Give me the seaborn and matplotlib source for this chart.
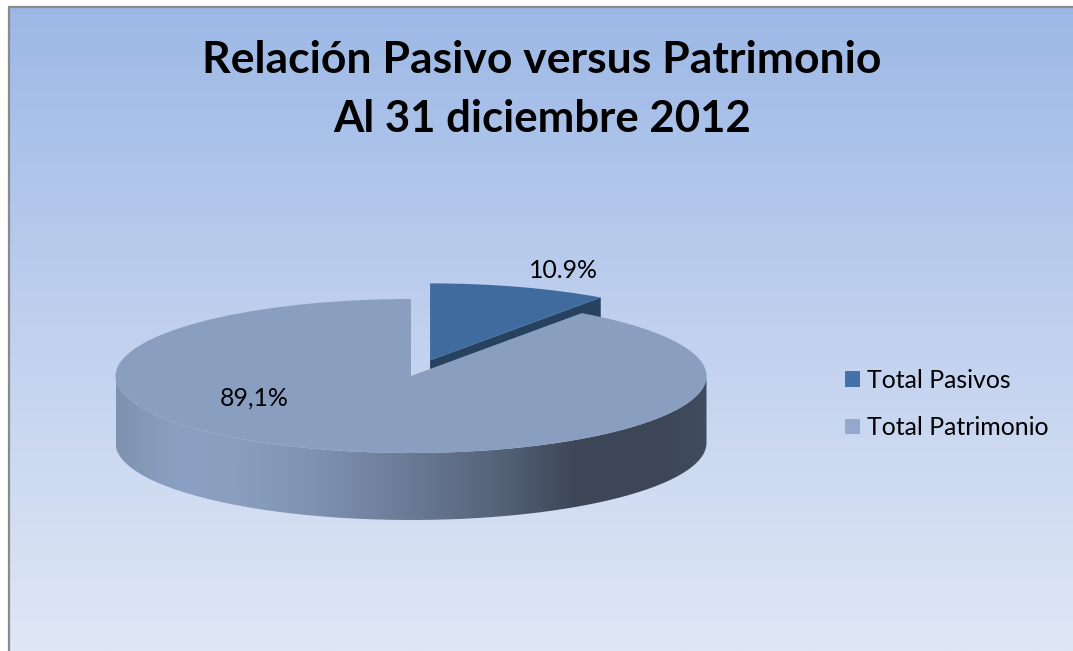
import numpy as np
import seaborn as sns
import matplotlib.pyplot as plt
from matplotlib.colors import LinearSegmentedColormap
from matplotlib.patches import Patch, PathPatch, Polygon, Rectangle
from matplotlib.path import Path

# Data (wedge shares as drawn, labels as typed on the chart)
names = ["Total Pasivos", "Total Patrimonio"]
shares = [9.8, 90.2]
labels = ["10.9%", "89,1%"]
title_lines = ["Relación Pasivo versus Patrimonio", "Al 31 diciembre 2012"]

sns.set_theme(style="white")
plt.rcParams["font.family"] = ["Lato", "DejaVu Sans"]

W, H = 1073, 651
cx, cy, rx, ry = 411, 376, 295.5, 77
depth = 67 / ry

top_colors = ["#3f6b9e", "#8a9fc0"]
swatch_colors = ["#4472a8", "#95a9d0"]
cut_color = "#27425f"

fig = plt.figure(figsize=(W / 100, H / 100), dpi=100, facecolor="white")
ax = fig.add_axes([0, 0, 1, 1])

# pie draws a unit circle, the axes limits squash it into the ellipse
wedges, _ = ax.pie(shares, colors=top_colors, startangle=90, counterclock=False,
                   explode=[0.213, 0], radius=1, wedgeprops={"linewidth": 0, "zorder": 5})
ax.set_aspect("auto")
xlim = (-cx / rx, (W - cx) / rx)
ylim = ((cy - H) / ry, cy / ry)
ax.axis("off")

# Background with frame (display pixels, origin at the bottom left)
bg = LinearSegmentedColormap.from_list("bg", ["#9cb8e6", "#c0d0ee", "#dfe7f5"])
im = ax.imshow(np.linspace(0, 1, 256).reshape(-1, 1), cmap=bg, aspect="auto",
               extent=(*xlim, ylim[0], ylim[1]), zorder=0)
im.set_clip_path(Rectangle((8, -10), W, H + 4, transform=None))
frame = Rectangle((8.5, -10), W, H + 3.5, transform=None, facecolor="none",
                  edgecolor="#8a8a8a", linewidth=1.6, zorder=1)
ax.add_artist(frame)

# Cut face of the pulled out wedge, the big slice covers the lower part
pulled = wedges[0]
ang = np.deg2rad(pulled.theta1)
tip = np.array(pulled.center)
edge = tip + np.array([np.cos(ang), np.sin(ang)])
ax.add_patch(Polygon([tip, edge, edge - [0, depth], tip - [0, depth]],
                     facecolor=cut_color, linewidth=0, zorder=3))

# Front wall of the big slice with horizontal shading
t = np.linspace(np.pi, 2 * np.pi, 200)
wall = np.vstack([np.column_stack([np.cos(t), np.sin(t) - depth]),
                  np.column_stack([np.cos(t[::-1]), np.sin(t[::-1])])])
wall_cmap = LinearSegmentedColormap.from_list("wall", [
    (0.0, "#7f92b0"), (0.1, "#8aa0c2"), (0.2, "#8a9fc0"), (0.35, "#7d90b0"),
    (0.5, "#6a7a95"), (0.65, "#556278"), (0.78, "#3c4656"), (0.92, "#3c4656"),
    (1.0, "#414d5f")])
shade = ax.imshow(np.linspace(0, 1, 512).reshape(1, -1), cmap=wall_cmap, aspect="auto",
                  extent=(-1, 1, -1 - depth, 0), zorder=4)
shade.set_clip_path(PathPatch(Path(wall), transform=ax.transData))
ax.set_xlim(xlim)
ax.set_ylim(ylim)

# Texts are placed in pixels from the top left corner
def px(x, y):
    return x / W, 1 - y / H

fig.text(*px(542, 60), title_lines[0], ha="center", va="center", fontsize=32,
         fontweight="bold", color="black")
fig.text(*px(542, 119), title_lines[1], ha="center", va="center", fontsize=31.5,
         fontweight="bold", color="black")
fig.text(*px(563, 270), labels[0], ha="center", va="center", fontsize=17.9, color="black")
fig.text(*px(254, 398), labels[1], ha="center", va="center", fontsize=17.9, color="black")

handles = [Patch(facecolor=c, linewidth=0) for c in swatch_colors]
leg = ax.legend(handles, names, loc="upper left", bbox_to_anchor=px(845, 368.5),
                bbox_transform=fig.transFigure, frameon=False, fontsize=17.9,
                handlelength=0.6, handleheight=0.6, handletextpad=0.28,
                labelspacing=1.0, labelcolor="black", borderpad=0, borderaxespad=0)
leg.set_zorder(10)

fig.savefig("out.png", dpi=100)
